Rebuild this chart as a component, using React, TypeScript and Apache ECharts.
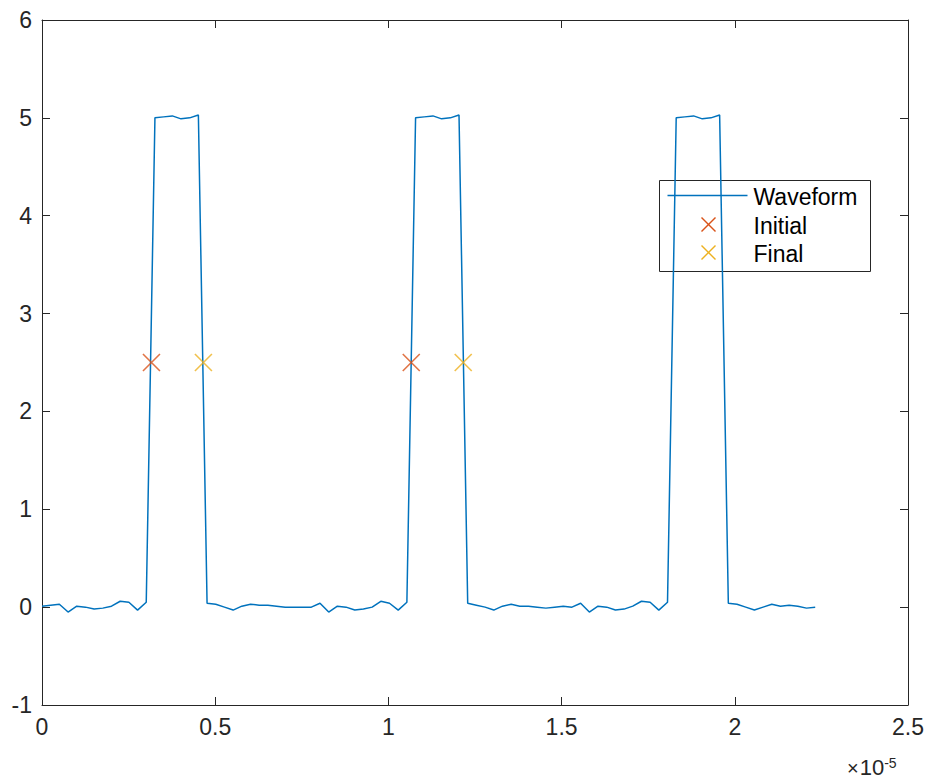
import React, { useEffect, useRef } from "react";
import * as echarts from "echarts";

// sample step (units of 1e-5 s)
const SAMPLE_STEP = 0.02508;

// waveform amplitude samples
const waveformValues: number[] = [
  0.01, 0.02, 0.03, -0.05, 0.01, 0.0, -0.02, -0.01, 0.01, 0.06,
  0.05, -0.03, 0.05, 5.0, 5.01, 5.02, 4.99, 5.0, 5.03, 0.04,
  0.03, 0.0, -0.03, 0.01, 0.03, 0.02, 0.02, 0.01, 0.0, 0.0,
  0.0, 0.0, 0.04, -0.05, 0.01, 0.0, -0.03, -0.02, 0.0, 0.06,
  0.04, -0.03, 0.05, 5.0, 5.01, 5.02, 4.99, 5.0, 5.03, 0.04,
  0.02, 0.0, -0.03, 0.01, 0.03, 0.01, 0.01, 0.0, -0.01, 0.0,
  0.01, 0.0, 0.04, -0.05, 0.01, 0.0, -0.03, -0.02, 0.01, 0.06,
  0.05, -0.03, 0.05, 5.0, 5.01, 5.02, 4.99, 5.0, 5.03, 0.04,
  0.03, 0.0, -0.03, 0.0, 0.03, 0.01, 0.02, 0.01, -0.01, 0.0,
];

const initialX = [0.316, 1.066];
const initialY = [2.5, 2.5];
const finalX = [0.466, 1.216];
const finalY = [2.5, 2.5];

const xTicks = [0, 0.5, 1, 1.5, 2, 2.5];
const yTicks = [-1, 0, 1, 2, 3, 4, 5, 6];

const FONT = "'Liberation Sans', Arial, sans-serif";
const AX = "#262626";
const BLUE = "#0072BD";
const ORANGE = "#D95319";
const YELLOW = "#EDB120";
const XSYM = "path://M0,0L10,10M10,0L0,10";
const FS = 23;

export default function App() {
  const ref = useRef<HTMLDivElement>(null);
  useEffect(() => {
    if (!ref.current) return;
    const chart = echarts.init(ref.current, undefined, { renderer: "svg" });
    const wave = waveformValues.map((v, i) => [i * SAMPLE_STEP, v]);
    const init = initialX.map((x, i) => [x, initialY[i]]);
    const fin = finalX.map((x, i) => [x, finalY[i]]);
    const axisCommon = {
      axisLine: { show: true, onZero: false, lineStyle: { color: AX, width: 1 } },
      axisTick: { show: true, inside: true, length: 8, lineStyle: { color: AX } },
      splitLine: { show: false },
    };
    const legendLeft = 659;
    const legendTop = 180;
    chart.setOption({
      animation: false,
      backgroundColor: "#ffffff",
      textStyle: { fontFamily: FONT },
      grid: { left: 42, right: 25, top: 20, bottom: 79, containLabel: false },
      xAxis: [
        {
          type: "value",
          position: "bottom",
          min: xTicks[0],
          max: xTicks[xTicks.length - 1],
          interval: 0.5,
          ...axisCommon,
          axisLabel: { color: AX, fontSize: FS, fontFamily: FONT, margin: 10 },
        },
        {
          type: "value",
          position: "top",
          min: xTicks[0],
          max: xTicks[xTicks.length - 1],
          interval: 0.5,
          ...axisCommon,
          axisLabel: { show: false },
        },
      ],
      yAxis: [
        {
          type: "value",
          position: "left",
          min: yTicks[0],
          max: yTicks[yTicks.length - 1],
          interval: 1,
          ...axisCommon,
          axisLabel: { color: AX, fontSize: FS, fontFamily: FONT, margin: 10 },
        },
        {
          type: "value",
          position: "right",
          min: yTicks[0],
          max: yTicks[yTicks.length - 1],
          interval: 1,
          ...axisCommon,
          axisLabel: { show: false },
        },
      ],
      series: [
        {
          name: "Waveform",
          type: "line",
          data: wave,
          showSymbol: false,
          symbol: "none",
          lineStyle: { color: BLUE, width: 1.5 },
          z: 2,
        },
        {
          name: "Initial",
          type: "scatter",
          data: init,
          symbol: XSYM,
          symbolSize: 17,
          itemStyle: { color: "rgba(0,0,0,0)", borderColor: ORANGE, borderWidth: 1.6 },
          z: 3,
        },
        {
          name: "Final",
          type: "scatter",
          data: fin,
          symbol: XSYM,
          symbolSize: 17,
          itemStyle: { color: "rgba(0,0,0,0)", borderColor: YELLOW, borderWidth: 1.6 },
          z: 3,
        },
      ],
      graphic: [
        {
          type: "group",
          left: legendLeft,
          top: legendTop,
          z: 100,
          children: [
            {
              type: "rect",
              shape: { x: 0, y: 0, width: 211, height: 91 },
              style: { fill: "#ffffff", stroke: AX, lineWidth: 1 },
            },
            {
              type: "line",
              shape: { x1: 8, y1: 15, x2: 88, y2: 15 },
              style: { stroke: BLUE, lineWidth: 1.5 },
            },
            {
              type: "text",
              x: 94,
              y: 16,
              style: { text: "Waveform", fontSize: FS, fontFamily: FONT, fill: "#000", verticalAlign: "middle" },
            },
            {
              type: "line",
              shape: { x1: 42, y1: 37, x2: 56, y2: 51 },
              style: { stroke: ORANGE, lineWidth: 1.4 },
            },
            {
              type: "line",
              shape: { x1: 56, y1: 37, x2: 42, y2: 51 },
              style: { stroke: ORANGE, lineWidth: 1.4 },
            },
            {
              type: "text",
              x: 94,
              y: 45,
              style: { text: "Initial", fontSize: FS, fontFamily: FONT, fill: "#000", verticalAlign: "middle" },
            },
            {
              type: "line",
              shape: { x1: 42, y1: 65, x2: 56, y2: 79 },
              style: { stroke: YELLOW, lineWidth: 1.4 },
            },
            {
              type: "line",
              shape: { x1: 56, y1: 65, x2: 42, y2: 79 },
              style: { stroke: YELLOW, lineWidth: 1.4 },
            },
            {
              type: "text",
              x: 94,
              y: 73,
              style: { text: "Final", fontSize: FS, fontFamily: FONT, fill: "#000", verticalAlign: "middle" },
            },
          ],
        },
        {
          type: "text",
          left: 847,
          top: 756,
          z: 100,
          style: {
            text: "{a|×}{b|10}{c|-5}",
            fontFamily: FONT,
            rich: {
              a: { fontSize: 20, fill: AX, fontFamily: FONT, verticalAlign: "bottom", padding: [0, 1, 0, 0] },
              b: { fontSize: 22, fill: AX, fontFamily: FONT, verticalAlign: "bottom" },
              c: { fontSize: 14, fill: AX, fontFamily: FONT, verticalAlign: "top" },
            },
          },
        },
      ],
    });
    return () => chart.dispose();
  }, []);
  return (
    <div
      ref={ref}
      style={{ position: "fixed", left: 0, top: 0, width: 933, height: 784, background: "#fff" }}
    />
  );
}
